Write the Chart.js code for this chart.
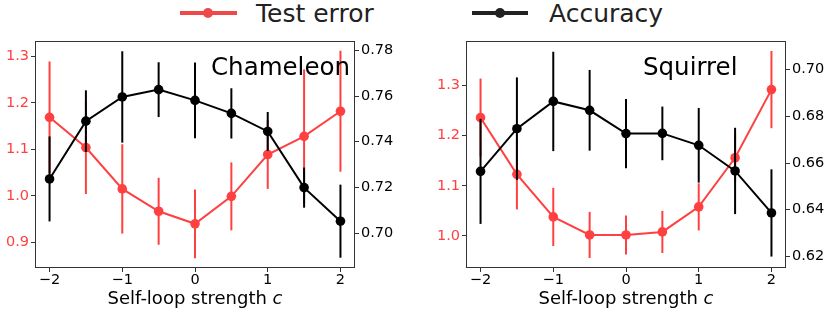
<!DOCTYPE html>
<html>
<head>
<meta charset="utf-8">
<script src="https://cdn.jsdelivr.net/npm/chart.js@4.4.1/dist/chart.umd.min.js"></script>
<style>
  body { margin: 0; background: #fff; width: 830px; height: 315px; position: relative; overflow: hidden; font-family: "DejaVu Sans", sans-serif; }
  canvas { position: absolute; top: 0; }
  #chamChart { left: 0; }
  #sqChart { left: 415px; }
  .handle { position: absolute; height: 4px; top: 10.7px; }
  .dot { position: absolute; width: 10px; height: 10px; border-radius: 50%; top: 7.7px; }
  .lbl { position: absolute; top: 1px; font-size: 25px; line-height: 25px; color: #222; white-space: nowrap; }
</style>
</head>
<body>
<div class="handle" style="left:180px;width:57px;background:#ee4848"></div>
<div class="dot" style="left:203px;background:#ee4848"></div>
<div class="lbl" style="left:256px">Test error</div>
<div class="handle" style="left:472px;width:56px;background:#222"></div>
<div class="dot" style="left:495px;background:#222"></div>
<div class="lbl" style="left:549px">Accuracy</div>

<canvas id="chamChart" width="415" height="315"></canvas>
<canvas id="sqChart" width="415" height="315"></canvas>

<script>
// self-loop strength c
const xVals = [-2, -1.5, -1, -0.5, 0, 0.5, 1, 1.5, 2];
const xTicks = [-2, -1, 0, 1, 2];

// Chameleon
const chamError = [1.169, 1.104, 1.015, 0.967, 0.940, 0.999, 1.089, 1.128, 1.182];
const chamErrorStd = [0.12, 0.10, 0.096, 0.072, 0.074, 0.073, 0.074, 0.144, 0.13];
const chamAcc = [0.7237, 0.749, 0.7596, 0.7628, 0.7581, 0.7524, 0.7445, 0.7199, 0.7052];
const chamAccStd = [0.0186, 0.0135, 0.02, 0.012, 0.0166, 0.011, 0.0085, 0.0088, 0.016];
const chamErrTicks = [0.9, 1.0, 1.1, 1.2, 1.3];
const chamAccTicks = [0.70, 0.72, 0.74, 0.76, 0.78];

// Squirrel
const sqError = [1.236, 1.123, 1.038, 1.002, 1.002, 1.008, 1.058, 1.156, 1.292];
const sqErrorStd = [0.078, 0.07, 0.058, 0.046, 0.039, 0.042, 0.047, 0.049, 0.077];
const sqAcc = [0.6564, 0.6747, 0.6864, 0.6826, 0.6726, 0.6727, 0.6676, 0.6566, 0.6386];
const sqAccStd = [0.0225, 0.022, 0.0213, 0.0173, 0.0148, 0.0115, 0.016, 0.0185, 0.0187];
const sqErrTicks = [1.0, 1.1, 1.2, 1.3];
const sqAccTicks = [0.62, 0.64, 0.66, 0.68, 0.70];

const FONT = "DejaVu Sans";
const RED = "#ff4040";
const BLACK = "#000000";

// vertical error bars, drawn just before each dataset so markers sit on top
const errorBars = {
  id: "errorBars",
  beforeDatasetDraw(chart, args) {
    const ds = chart.data.datasets[args.index];
    if (!ds.errors) return;
    const ys = chart.scales[ds.yAxisID];
    const area = chart.chartArea;
    const ctx = chart.ctx;
    ctx.save();
    ctx.beginPath();
    ctx.rect(area.left, area.top, area.right - area.left, area.bottom - area.top);
    ctx.clip();
    ctx.strokeStyle = ds.borderColor;
    ctx.lineWidth = 2;
    args.meta.data.forEach((pt, i) => {
      const v = ds.data[i].y;
      const e = ds.errors[i];
      ctx.beginPath();
      ctx.moveTo(pt.x, ys.getPixelForValue(v - e));
      ctx.lineTo(pt.x, ys.getPixelForValue(v + e));
      ctx.stroke();
    });
    ctx.restore();
  },
};

// box around the plot, panel name and x-axis title with italic c
const decorations = {
  id: "decorations",
  afterDraw(chart, args, opts) {
    const ctx = chart.ctx;
    const a = chart.chartArea;
    ctx.save();
    ctx.strokeStyle = "#333";
    ctx.lineWidth = 1;
    ctx.strokeRect(a.left + 0.5, a.top + 0.5, a.right - a.left - 1, a.bottom - a.top - 1);

    ctx.fillStyle = "#000";
    ctx.font = "24.5px '" + FONT + "'";
    ctx.textAlign = opts.nameAlign;
    ctx.textBaseline = "alphabetic";
    ctx.fillText(opts.name, opts.nameX, 75);

    const main = "Self-loop strength ";
    ctx.textAlign = "left";
    ctx.font = "18px '" + FONT + "'";
    const w1 = ctx.measureText(main).width;
    ctx.font = "italic 18px '" + FONT + "'";
    const w2 = ctx.measureText("c").width;
    const x0 = (a.left + a.right) / 2 - (w1 + w2) / 2;
    ctx.font = "18px '" + FONT + "'";
    ctx.fillText(main, x0, 304);
    ctx.font = "italic 18px '" + FONT + "'";
    ctx.fillText("c", x0 + w1, 304);
    ctx.restore();
  },
};

function fixedTicks(list) {
  return (scale) => {
    scale.ticks = list.map((v) => ({ value: v }));
  };
}

function makeChart(id, p) {
  const ctx = document.getElementById(id).getContext("2d");
  return new Chart(ctx, {
    type: "line",
    data: {
      datasets: [
        {
          label: "Accuracy",
          data: xVals.map((x, i) => ({ x: x, y: p.acc[i] })),
          errors: p.accStd,
          yAxisID: "yAcc",
          borderColor: BLACK,
          backgroundColor: BLACK,
          pointBackgroundColor: BLACK,
          borderWidth: 2,
          pointRadius: 4.8,
          pointBorderWidth: 0,
          tension: 0,
        },
        {
          label: "Test error",
          data: xVals.map((x, i) => ({ x: x, y: p.err[i] })),
          errors: p.errStd,
          yAxisID: "yErr",
          borderColor: RED,
          backgroundColor: RED,
          pointBackgroundColor: RED,
          borderWidth: 2,
          pointRadius: 4.8,
          pointBorderWidth: 0,
          tension: 0,
        },
      ],
    },
    options: {
      responsive: false,
      animation: false,
      layout: { padding: { top: 41, left: 0, right: 0, bottom: 0 } },
      plugins: {
        legend: { display: false },
        tooltip: { enabled: false },
        decorations: { name: p.name, nameX: p.nameX, nameAlign: p.nameAlign },
      },
      scales: {
        x: {
          type: "linear",
          min: -2.2,
          max: 2.2,
          afterBuildTicks: fixedTicks(xTicks),
          afterFit: (s) => { s.height = 47; },
          grid: { drawOnChartArea: false, tickLength: 4, tickColor: "#333" },
          border: { display: false },
          ticks: {
            color: "#000",
            padding: 0,
            maxRotation: 0,
            font: { family: FONT, size: 14.5 },
            callback: (v) => (v < 0 ? "\u2212" + Math.abs(v) : String(v)),
          },
        },
        yErr: {
          type: "linear",
          position: "left",
          min: p.errRange[0],
          max: p.errRange[1],
          afterBuildTicks: fixedTicks(p.errTicks),
          afterFit: (s) => { s.width = p.leftW; },
          grid: { drawOnChartArea: false, tickLength: 4, tickColor: "#333" },
          border: { display: false },
          ticks: {
            color: RED,
            padding: 2,
            font: { family: FONT, size: 14.5 },
            callback: (v) => v.toFixed(1),
          },
        },
        yAcc: {
          type: "linear",
          position: "right",
          min: p.accRange[0],
          max: p.accRange[1],
          afterBuildTicks: fixedTicks(p.accTicks),
          afterFit: (s) => { s.width = p.rightW; },
          grid: { drawOnChartArea: false, tickLength: 4, tickColor: "#333" },
          border: { display: false },
          ticks: {
            color: "#000",
            padding: 2,
            font: { family: FONT, size: 14.5 },
            callback: (v) => v.toFixed(2),
          },
        },
      },
    },
    plugins: [errorBars, decorations],
  });
}

makeChart("chamChart", {
  name: "Chameleon", nameX: 350, nameAlign: "right",
  err: chamError, errStd: chamErrorStd, acc: chamAcc, accStd: chamAccStd,
  errTicks: chamErrTicks, accTicks: chamAccTicks,
  errRange: [0.845, 1.333], accRange: [0.6847, 0.7841],
  leftW: 35, rightW: 60,
});

makeChart("sqChart", {
  name: "Squirrel", nameX: 228, nameAlign: "left",
  err: sqError, errStd: sqErrorStd, acc: sqAcc, accStd: sqAccStd,
  errTicks: sqErrTicks, accTicks: sqAccTicks,
  errRange: [0.936, 1.389], accRange: [0.615, 0.7123],
  leftW: 51, rightW: 44,
});
</script>
</body>
</html>
